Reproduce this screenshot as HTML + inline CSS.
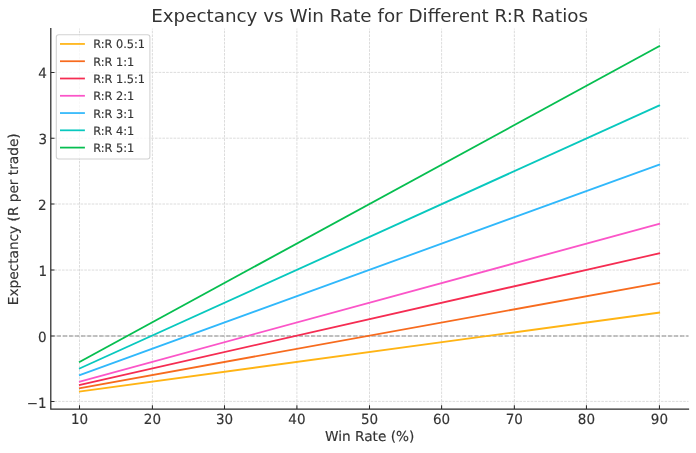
<!DOCTYPE html>
<html lang="en">
<head>
<meta charset="utf-8">
<title>Expectancy vs Win Rate for Different R:R Ratios</title>
<style>
html,body{margin:0;padding:0;background:#fff;}
body{width:696px;height:453px;overflow:hidden;}
svg{display:block;text-rendering:geometricPrecision;}
</style>
</head>
<body>
<svg width="696" height="453" viewBox="0 0 696 453" font-family='"DejaVu Sans","Liberation Sans",sans-serif'>
<rect width="696" height="453" fill="#fff"/>
<path d="M79.50 409.00V28.60M152.40 409.00V28.60M224.50 409.00V28.60M296.90 409.00V28.60M369.50 409.00V28.60M441.60 409.00V28.60M514.35 409.00V28.60M586.45 409.00V28.60M659.45 409.00V28.60M50.80 401.40H688.50M50.80 336.00H688.50M50.80 270.05H688.50M50.80 204.00H688.50M50.80 138.20H688.50M50.80 72.40H688.50" fill="none" stroke="#d3d3d3" stroke-width="0.8" stroke-dasharray="2.6 1.12"/>
<path d="M79.50 409.00v-3.7M152.40 409.00v-3.7M224.50 409.00v-3.7M296.90 409.00v-3.7M369.50 409.00v-3.7M441.60 409.00v-3.7M514.35 409.00v-3.7M586.45 409.00v-3.7M659.45 409.00v-3.7M50.80 401.40h3.7M50.80 336.00h3.7M50.80 270.05h3.7M50.80 204.00h3.7M50.80 138.20h3.7M50.80 72.40h3.7" fill="none" stroke="#2b2b2b" stroke-width="1.05"/>
<path d="M50.80 336.00H688.50" fill="none" stroke="#8c8c8c" stroke-width="1.15" stroke-dasharray="4.2 1.85"/>
<path d="M78.96 391.61L660.05 312.49" fill="none" stroke="#FFB414" stroke-width="1.85"/>
<path d="M78.96 388.35L660.04 282.85" fill="none" stroke="#F76B1E" stroke-width="1.85"/>
<path d="M78.96 385.08L660.04 253.22" fill="none" stroke="#F52C52" stroke-width="1.85"/>
<path d="M78.97 381.82L660.03 223.58" fill="none" stroke="#FB55C8" stroke-width="1.85"/>
<path d="M78.99 375.28L660.02 164.32" fill="none" stroke="#30B8FB" stroke-width="1.85"/>
<path d="M79.00 368.75L660.00 105.05" fill="none" stroke="#08C8BE" stroke-width="1.85"/>
<path d="M79.02 362.21L659.98 45.79" fill="none" stroke="#06BE50" stroke-width="1.85"/>
<path d="M50.80 28.60V409.20H688.50" fill="none" stroke="#2b2b2b" stroke-width="1.25" stroke-linecap="square" stroke-linejoin="miter"/>
<g fill="#333333" stroke="#333333" stroke-width="0.15" stroke-linejoin="round">
<g font-size="13.5px">
<text transform="translate(79.50 423.55) scale(1 1.035)" text-anchor="middle">10</text>
<text transform="translate(152.40 423.55) scale(1 1.035)" text-anchor="middle">20</text>
<text transform="translate(224.50 423.55) scale(1 1.035)" text-anchor="middle">30</text>
<text transform="translate(296.90 423.55) scale(1 1.035)" text-anchor="middle">40</text>
<text transform="translate(369.50 423.55) scale(1 1.035)" text-anchor="middle">50</text>
<text transform="translate(441.60 423.55) scale(1 1.035)" text-anchor="middle">60</text>
<text transform="translate(514.35 423.55) scale(1 1.035)" text-anchor="middle">70</text>
<text transform="translate(586.45 423.55) scale(1 1.035)" text-anchor="middle">80</text>
<text transform="translate(659.45 423.55) scale(1 1.035)" text-anchor="middle">90</text>
<text transform="translate(46.70 407.55) scale(1 1.035)" text-anchor="end">−1</text>
<text transform="translate(46.70 341.85) scale(1 1.035)" text-anchor="end">0</text>
<text transform="translate(47.20 276.20) scale(1 1.035)" text-anchor="end">1</text>
<text transform="translate(46.55 209.70) scale(1 1.035)" text-anchor="end">2</text>
<text transform="translate(47.10 144.00) scale(1 1.035)" text-anchor="end">3</text>
<text transform="translate(46.80 78.30) scale(1 1.035)" text-anchor="end">4</text>
</g>
<text x="369.65" y="441.15" text-anchor="middle" font-size="13.7px">Win Rate (%)</text>
<text transform="translate(18.45 219.30) rotate(-90)" text-anchor="middle" font-size="13.7px">Expectancy (R per trade)</text>
<text x="369.55" y="22" text-anchor="middle" font-size="18.32px" stroke="none" style="text-rendering:auto">Expectancy vs Win Rate for Different R:R Ratios</text>
</g>
<rect x="56.3" y="34.7" width="93.60" height="124.30" rx="2.4" ry="2.4" fill="#fff" fill-opacity="0.8" stroke="#c6c6c6" stroke-opacity="0.8" stroke-width="1.05"/>
<g fill="#333333" stroke="#333333" stroke-width="0.15" stroke-linejoin="round" font-size="11.35px">
<path d="M60.0 43.95H84.9" fill="none" stroke="#FFB414" stroke-width="1.75"/>
<text transform="translate(93.15 48.45) scale(1 1.03)">R:R 0.5:1</text>
<path d="M60.0 61.23H84.9" fill="none" stroke="#F76B1E" stroke-width="1.75"/>
<text transform="translate(93.15 65.72) scale(1 1.03)">R:R 1:1</text>
<path d="M60.0 78.50H84.9" fill="none" stroke="#F52C52" stroke-width="1.75"/>
<text transform="translate(93.15 83.00) scale(1 1.03)">R:R 1.5:1</text>
<path d="M60.0 95.78H84.9" fill="none" stroke="#FB55C8" stroke-width="1.75"/>
<text transform="translate(93.15 100.28) scale(1 1.03)">R:R 2:1</text>
<path d="M60.0 113.05H84.9" fill="none" stroke="#30B8FB" stroke-width="1.75"/>
<text transform="translate(93.15 117.55) scale(1 1.03)">R:R 3:1</text>
<path d="M60.0 130.32H84.9" fill="none" stroke="#08C8BE" stroke-width="1.75"/>
<text transform="translate(93.15 134.82) scale(1 1.03)">R:R 4:1</text>
<path d="M60.0 147.60H84.9" fill="none" stroke="#06BE50" stroke-width="1.75"/>
<text transform="translate(93.15 152.10) scale(1 1.03)">R:R 5:1</text>
</g>
</svg>
</body>
</html>
